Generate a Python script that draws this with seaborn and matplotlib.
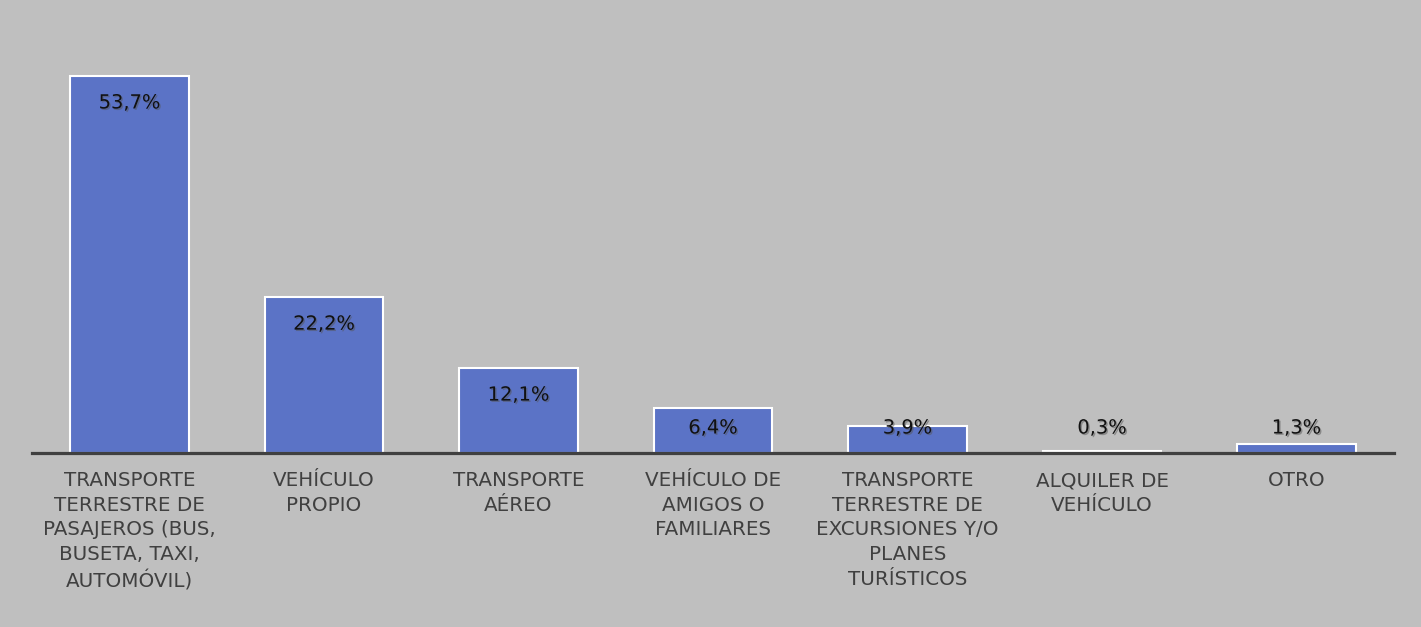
import matplotlib
matplotlib.use('Agg')
import matplotlib.pyplot as plt
import matplotlib.patheffects as pe
import seaborn as sns
import pandas as pd

# Chart data
categorias = [
    'TRANSPORTE\nTERRESTRE DE\nPASAJEROS (BUS,\nBUSETA, TAXI,\nAUTOMÓVIL)',
    'VEHÍCULO\nPROPIO',
    'TRANSPORTE\nAÉREO',
    'VEHÍCULO DE\nAMIGOS O\nFAMILIARES',
    'TRANSPORTE\nTERRESTRE DE\nEXCURSIONES Y/O\nPLANES\nTURÍSTICOS',
    'ALQUILER DE\nVEHÍCULO',
    'OTRO',
]
porcentajes = [53.7, 22.2, 12.1, 6.4, 3.9, 0.3, 1.3]
etiquetas = ['53,7%', '22,2%', '12,1%', '6,4%', '3,9%', '0,3%', '1,3%']

data = pd.DataFrame({'Categoria': categorias, 'Porcentaje': porcentajes})

sns.set_style('white')
plt.rcParams['font.family'] = ['DejaVu Sans']

bg = '#bfbfbf'
fig = plt.figure(figsize=(14.21, 6.27), dpi=100, facecolor=bg)
ax = fig.add_axes([0.0228, 0.2775, 0.958, 0.672])
ax.set_facecolor(bg)

sns.barplot(x='Categoria', y='Porcentaje', data=data, color='#5b73c6',
            saturation=1, width=0.61, edgecolor='white', linewidth=1.5, ax=ax)

ax.set_ylim(0, 60)
ax.set_xlim(-0.5, len(categorias) - 0.5)
ax.set_xlabel('')
ax.set_ylabel('')
ax.set_yticks([])
ax.tick_params(axis='x', length=0, pad=13)
ax.set_xticks(range(len(categorias)))
ax.set_xticklabels(categorias, fontsize=14.3, color='#404040', linespacing=1.38)

for s in ['top', 'left', 'right']:
    ax.spines[s].set_visible(False)
ax.spines['bottom'].set_color('#404040')
ax.spines['bottom'].set_linewidth(2.3)

# value labels at the inside end of the bars
for i, (v, t) in enumerate(zip(porcentajes, etiquetas)):
    y = max(v - 3.85, 3.56)
    ax.text(i, y, t, ha='center', va='center', fontsize=14, color='#111111',
            path_effects=[pe.withSimplePatchShadow(offset=(1, -1), shadow_rgbFace='#555555', alpha=0.5)])

plt.savefig('out.png', dpi=100, facecolor=bg)
